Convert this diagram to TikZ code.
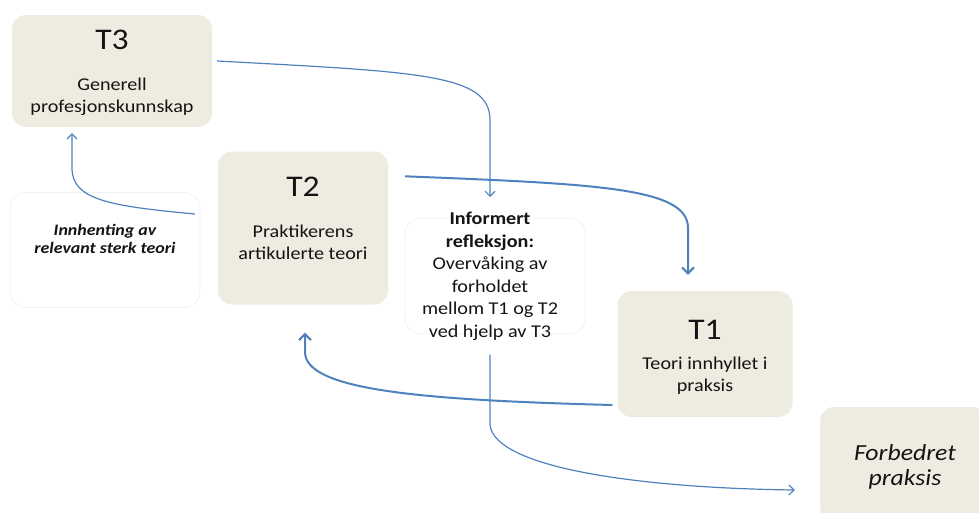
\documentclass[tikz,border=0pt]{standalone}
\usepackage{fontspec}
\setmainfont{Carlito}[FakeStretch=1.12]
\usetikzlibrary{arrows.meta, positioning, calc}
\definecolor{boxtan}{HTML}{EEECE1}
\definecolor{flowblue}{HTML}{4F81BD}
\definecolor{faintgray}{HTML}{F2F2F2}
\newcommand{\tnum}[1]{{\fontsize{30}{34}\selectfont #1}}

\begin{document}
\begin{tikzpicture}[
  x=1pt, y=-1pt,
  >={Straight Barb[length=5pt,width=10pt]},
  tbox/.style  = {fill=boxtan, rounded corners=14pt, inner sep=0pt},
  wbox/.style  = {draw=faintgray, line width=0.8pt, rounded corners=16pt, inner sep=0pt},
  btext/.style = {align=center, inner sep=0pt, anchor=north, text=black!92,
                  font=\fontsize{18}{22.5}\selectfont},
  flow/.style  = {draw=flowblue, line width=1.2pt, ->},
  flowthick/.style = {flow, line width=2pt,
                  >={Straight Barb[length=6pt,width=12pt]}},
]
  \useasboundingbox (0,0) rectangle (979,512);

  % boxes
  \node[tbox, minimum width=200, minimum height=112] (t3) at (112,71)  {};
  \node[tbox, minimum width=170, minimum height=153] (t2) at (303,228) {};
  \node[tbox, minimum width=175, minimum height=126] (t1) at (705,354) {};
  \node[tbox, minimum width=166, minimum height=114] (fp) at (903,464) {};
  \node[wbox, minimum width=190, minimum height=115] (innbox) at (105,250) {};
  \node[wbox, minimum width=180, minimum height=116] (refbox) at (495,276) {};

  % texts
  \node[btext] (t3txt) at (112,30)  {\tnum{T3}\\[18pt]Generell\\profesjonskunnskap};
  \node[btext] (t2txt) at (303,177) {\tnum{T2}\\[18pt]Praktikerens\\artikulerte teori};
  \node[btext] (t1txt) at (705,320) {\tnum{T1}\\[7pt]Teori innhyllet i\\praksis};
  \node[btext, font=\fontsize{23}{25}\itshape] (fptxt) at (905,444) {Forbedret\\praksis};
  \node[btext, font=\fontsize{16}{18}\bfseries\itshape] (inntxt) at (105,224)
       {Innhenting av\\relevant sterk teori};
  \node[btext] (reftxt) at (490,212)
       {\textbf{Informert}\\\textbf{refleksjon:}\\Overvåking av\\forholdet\\mellom T1 og T2\\ved hjelp av T3};

  % connectors
  \draw[flow] ($(t3.east)+(5,-10)$) .. controls (420,72) and (490,74) .. (490,120)
              -- ($(reftxt.north)+(0,-15)$);
  \draw[flowthick] ($(t2.north east)+(17,25)$) .. controls (600,184) and (688,188) .. (688,228)
              -- ($(t1.north)+(-17,-16)$);
  \draw[flow] ($(t2.west)+(-23,-14)$) .. controls (110,206) and (72,200) .. (72,168)
              -- ($(t3.south)+(-40,6)$);
  \draw[flowthick] ($(t1.west)+(-5,51)$) .. controls (420,400) and (305,390) .. (305,352)
              -- ($(t2.south)+(2,28)$);
  \draw[flow] ($(reftxt.south)+(0,14)$) -- (490,425) .. controls (495,468) and (640,488) ..
              ($(fp.west)+(-25,26)$);
\end{tikzpicture}
\end{document}
